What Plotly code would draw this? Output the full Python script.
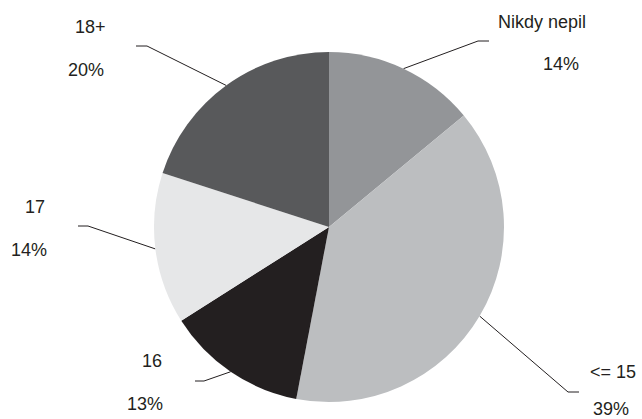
import math
import plotly.graph_objects as go

# Share of respondents by age at first drink
categories = ["Nikdy nepil", "<= 15", "16", "17", "18+"]
shares = [14, 39, 13, 14, 20]
pct_labels = ["14%", "39%", "13%", "14%", "20%"]

colors = ["#939598", "#bcbec0", "#231f20", "#e6e7e8", "#58595b"]

W, H = 642, 419
cx, cy, r = 329, 227, 175  # pie centre and radius in pixels

# Leader elbow / end point and label placement for each slice (pixels)
callouts = [
    dict(elbow=(478, 41), end=(489, 41), name=(542, 22), pct=(561, 64)),
    dict(elbow=(568, 392), end=(579, 392), name=(613, 372), pct=(611, 409)),
    dict(elbow=(204, 381), end=(195, 381), name=(152, 361), pct=(145, 404)),
    dict(elbow=(88, 226), end=(78, 226), name=(35, 207), pct=(29, 250)),
    dict(elbow=(147, 46), end=(136, 46), name=(90, 27), pct=(86, 70)),
]

fig = go.Figure()

fig.add_trace(go.Pie(
    labels=categories,
    values=shares,
    sort=False,
    direction="clockwise",
    rotation=0,
    marker=dict(colors=colors, line=dict(width=0)),
    textinfo="none",
    hoverinfo="label+percent",
    showlegend=False,
    domain=dict(x=[(cx - r) / W, (cx + r) / W],
                y=[(H - cy - r) / H, (H - cy + r) / H]),
))

# Leader lines start at the mid-angle of each slice on the rim
total = sum(shares)
cum = 0
for val, co in zip(shares, callouts):
    mid = (cum + val / 2) / total * 2 * math.pi
    cum += val
    sx = cx + r * math.sin(mid)
    sy = cy - r * math.cos(mid)
    fig.add_trace(go.Scatter(
        x=[sx, co["elbow"][0], co["end"][0]],
        y=[sy, co["elbow"][1], co["end"][1]],
        mode="lines",
        line=dict(color="#231f20", width=1),
        hoverinfo="skip",
        showlegend=False,
    ))

font = dict(family="Liberation Sans, Arial, sans-serif", size=18, color="#231f20")
annotations = []
for cat, pl, co in zip(categories, pct_labels, callouts):
    annotations.append(dict(x=co["name"][0], y=co["name"][1], text=cat,
                            xref="x", yref="y", showarrow=False, font=font,
                            xanchor="center", yanchor="middle"))
    annotations.append(dict(x=co["pct"][0], y=co["pct"][1], text=pl,
                            xref="x", yref="y", showarrow=False, font=font,
                            xanchor="center", yanchor="middle"))

fig.update_layout(
    width=W, height=H,
    margin=dict(l=0, r=0, t=0, b=0),
    paper_bgcolor="white",
    plot_bgcolor="rgba(0,0,0,0)",
    xaxis=dict(range=[0, W], visible=False, fixedrange=True),
    yaxis=dict(range=[H, 0], visible=False, fixedrange=True),
    annotations=annotations,
)

fig.write_html("out.html")
